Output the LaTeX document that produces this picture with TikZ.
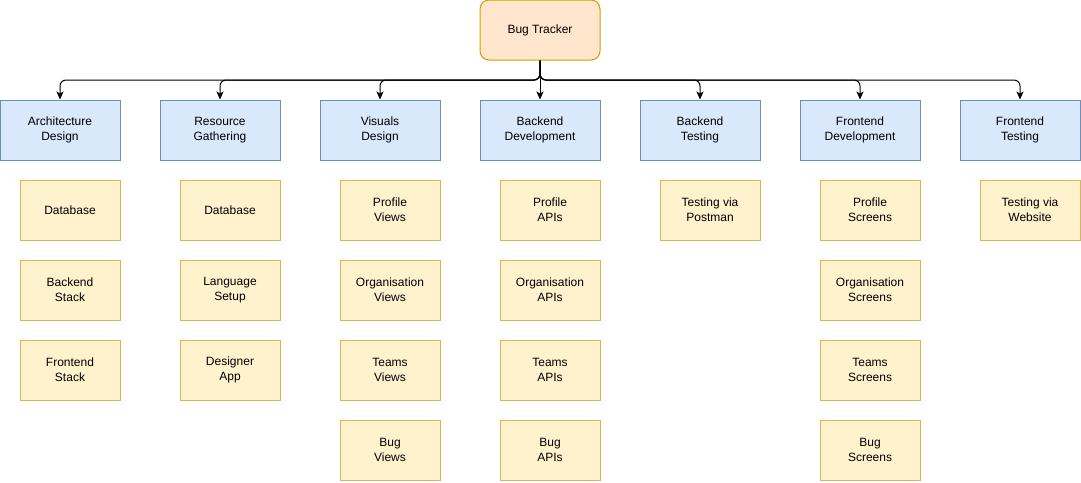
\documentclass[tikz,border=0pt]{standalone}
\usepackage{fontspec}
\setmainfont{Liberation Sans}
\usetikzlibrary{arrows.meta}
\definecolor{rootfill}{HTML}{FFE6CC}
\definecolor{rootdraw}{HTML}{D79B00}
\definecolor{bluefill}{HTML}{DAE8FC}
\definecolor{bluedraw}{HTML}{6C8EBF}
\definecolor{yelfill}{HTML}{FFF2CC}
\definecolor{yeldraw}{HTML}{D6B656}
\begin{document}
\begin{tikzpicture}[x=1pt,y=-1pt,
  txt/.style={font=\fontsize{12}{15}\selectfont, align=center, text=black, inner sep=0pt, line width=1pt},
  rootbox/.style={txt, draw=rootdraw, fill=rootfill, rounded corners=9pt, minimum width=120pt, minimum height=60pt},
  phase/.style={txt, draw=bluedraw, fill=bluefill, minimum width=120pt, minimum height=60pt},
  task/.style={txt, draw=yeldraw, fill=yelfill, minimum width=100pt, minimum height=60pt},
  link/.style={draw=black, line width=1pt, rounded corners=6pt, -{Stealth[length=8pt,width=7pt,inset=2pt]}}
]
\useasboundingbox (0,0) rectangle (1081,482);
\node[rootbox] (root) at (540,30) {Bug Tracker};
\node[phase] (p1) at (60,130) {Architecture\\Design};
\node[phase] (p2) at (220,130) {Resource\\Gathering};
\node[phase] (p3) at (380,130) {Visuals\\Design};
\node[phase] (p4) at (540,130) {Backend\\Development};
\node[phase] (p5) at (700,130) {Backend\\Testing};
\node[phase] (p6) at (860,130) {Frontend\\Development};
\node[phase] (p7) at (1020,130) {Frontend\\Testing};
\coordinate (bus) at (540,80);
\foreach \p in {p1,p2,p3,p5,p6,p7}{
  \draw[link] (root.south) -- (bus) -| (\p.north);
}
\draw[link] (root.south) -- (p4.north);
% tasks
\node[task] (a1) at (70,210) {Database};
\node[task] (a2) at (70,290) {Backend\\Stack};
\node[task] (a3) at (70,370) {Frontend\\Stack};
\node[task] (b1) at (230,210) {Database};
\node[task] (b2) at (230,290) {Language\\Setup};
\node[task] (b3) at (230,370) {Designer\\App};
\node[task] (c1) at (390,210) {Profile\\Views};
\node[task] (c2) at (390,290) {Organisation\\Views};
\node[task] (c3) at (390,370) {Teams\\Views};
\node[task] (c4) at (390,450) {Bug\\Views};
\node[task] (d1) at (550,210) {Profile\\APIs};
\node[task] (d2) at (550,290) {Organisation\\APIs};
\node[task] (d3) at (550,370) {Teams\\APIs};
\node[task] (d4) at (550,450) {Bug\\APIs};
\node[task] (e1) at (710,210) {Testing via\\Postman};
\node[task] (f1) at (870,210) {Profile\\Screens};
\node[task] (f2) at (870,290) {Organisation\\Screens};
\node[task] (f3) at (870,370) {Teams\\Screens};
\node[task] (f4) at (870,450) {Bug\\Screens};
\node[task] (g1) at (1030,210) {Testing via\\Website};
\end{tikzpicture}
\end{document}
